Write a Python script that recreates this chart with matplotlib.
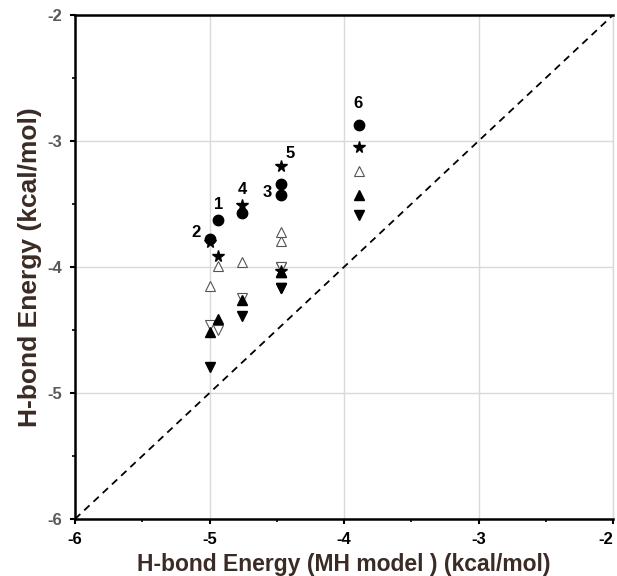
import numpy as np
import matplotlib
matplotlib.use("Agg")
import matplotlib.pyplot as plt
from matplotlib.ticker import MultipleLocator

plt.rcParams['font.family'] = ['Liberation Sans', 'DejaVu Sans']
plt.rcParams['axes.unicode_minus'] = False

# data (kcal/mol)
labels = ['1', '2', '3', '4', '5', '6']
mh_energy = [-4.94, -5.00, -4.47, -4.76, -4.47, -3.89]
circle_e = [-3.63, -3.78, -3.43, -3.57, -3.34, -2.87]
star_e = [-3.91, -3.80, -4.03, -3.51, -3.20, -3.05]
open_up_e = [-3.99, -4.15, -3.79, -3.96, -3.72, -3.24]
filled_up_e = [-4.41, -4.52, -4.04, -4.26, -4.04, -3.43]
open_down_e = [-4.50, -4.46, -4.00, -4.25, -4.00, np.nan]
filled_down_e = [np.nan, -4.79, -4.17, -4.39, -4.17, -3.59]
ticks = [-6, -5, -4, -3, -2]

fig = plt.figure(figsize=(6.17, 5.76), dpi=100)
ax = fig.add_axes([0.1216, 0.099, 0.872, 0.875])

ax.set_xlim(-6, -2)
ax.set_ylim(-6, -2)
ax.set_xticks(ticks)
ax.set_yticks(ticks)
ax.xaxis.set_minor_locator(MultipleLocator(0.5))
ax.yaxis.set_minor_locator(MultipleLocator(0.5))
ax.grid(True, which='major', color='#d9d9d9', lw=1)
ax.set_axisbelow(True)

# diagonal y = x
ax.plot([-6, -2], [-6, -2], ls=(0, (4, 3)), color='black', lw=1.3, zorder=2)

ax.plot(mh_energy, open_up_e, ls='none', marker='^', ms=7, mfc='white', mec='#555555', mew=0.8, zorder=3)
ax.plot(mh_energy, open_down_e, ls='none', marker='v', ms=7, mfc='white', mec='#555555', mew=0.8, zorder=3)
ax.plot(mh_energy, filled_up_e, ls='none', marker='^', ms=7, color='black', zorder=4)
ax.plot(mh_energy, filled_down_e, ls='none', marker='v', ms=7, color='black', zorder=4)
ax.plot(mh_energy, star_e, ls='none', marker='*', ms=8.5, color='black', zorder=4)
ax.plot(mh_energy, circle_e, ls='none', marker='o', ms=7.5, color='black', zorder=5)

offsets = {'1': (1, 11.5), '2': (-10, 5), '3': (-9.5, 2), '4': (0.5, 16.5), '5': (6.5, 21.5), '6': (-0.5, 15)}
for lab, xv, yv in zip(labels, mh_energy, circle_e):
    ax.annotate(lab, (xv, yv), xytext=offsets[lab], textcoords='offset points',
                ha='center', va='center', fontsize=12, fontweight='bold')

for s in ['left', 'bottom', 'top']:
    ax.spines[s].set_color('black')
    ax.spines[s].set_linewidth(1.8)
ax.spines['right'].set_color('#d9d9d9')
ax.spines['right'].set_linewidth(1)

ax.tick_params(which='major', direction='out', length=3.5, width=1.5, pad=6)
ax.tick_params(which='minor', direction='out', length=2.5, width=1.2)
ax.tick_params(axis='y', labelcolor='#595959')
ax.tick_params(axis='x', labelcolor='black')

ax.set_xlabel('H-bond Energy (MH model ) (kcal/mol)', fontsize=16.5, fontweight='bold', color='#3b2b25', labelpad=4)
ax.set_ylabel('H-bond Energy (kcal/mol)', fontsize=19, fontweight='bold', color='#3b2b25')
ax.yaxis.set_label_coords(-0.062, 0.5)

for t in ax.get_xticklabels() + ax.get_yticklabels():
    t.set_fontweight('bold')
    t.set_fontsize(12)
# last x tick label sits at the figure edge
ax.get_xticklabels()[-1].set_horizontalalignment('right')

fig.savefig('out.png', dpi=100)
